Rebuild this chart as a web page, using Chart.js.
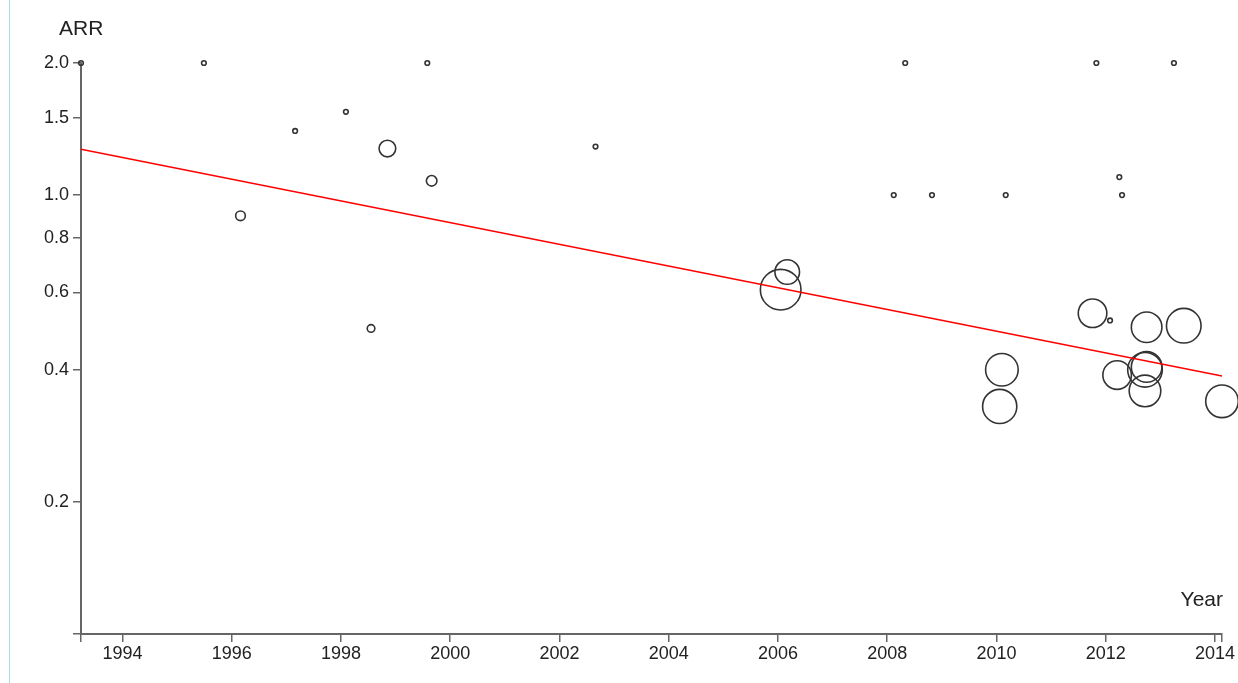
<!DOCTYPE html>
<html>
<head>
<meta charset="utf-8">
<script src="https://cdn.jsdelivr.net/npm/chart.js@4.4.1/dist/chart.umd.min.js"></script>
<style>
  html, body { margin: 0; padding: 0; background: #fff; }
  #wrap { position: relative; width: 1238px; height: 683px; }
  #edge { position: absolute; left: 9px; top: 0; width: 1px; height: 683px; background: #a9dcdc; }
  canvas { position: absolute; left: 0; top: 0; }
</style>
</head>
<body>
<div id="wrap">
  <div id="edge"></div>
  <canvas id="chart" width="1238" height="683"></canvas>
</div>
<script>
// each study: publication year, annualised relapse rate, relative weight
const years = [1993.24, 1995.49, 1996.16, 1997.16, 1998.09, 1998.55, 1998.85, 1999.58,
  1999.66, 2002.66, 2006.05, 2006.17, 2008.12, 2008.33, 2008.82, 2010.06,
  2010.10, 2010.17, 2011.76, 2011.83, 2012.08, 2012.21, 2012.25, 2012.30,
  2012.72, 2012.75, 2012.72, 2012.75, 2013.25, 2013.43, 2014.13];
const arr = [2.0, 2.0, 0.897, 1.40, 1.548, 0.497, 1.277, 2.0,
  1.078, 1.29, 0.609, 0.668, 1.0, 2.0, 1.0, 0.330,
  0.400, 1.0, 0.538, 2.0, 0.518, 0.389, 1.099, 1.0,
  0.400, 0.406, 0.358, 0.500, 2.0, 0.504, 0.339];
const weights = [0.6, 0.6, 2.6, 0.6, 0.6, 1.6, 7.7, 0.6,
  3.1, 0.6, 45.8, 16.8, 0.6, 0.6, 0.6, 32.5,
  29.5, 0.6, 22.7, 0.6, 0.6, 22.7, 0.6, 0.6,
  33.3, 26.0, 27.7, 26.0, 0.6, 33.3, 29.5];

// regression line end points
const fitYears = [1993.24, 2014.13];
const fitArr = [1.272, 0.387];

const xTickYears = [1994, 1996, 1998, 2000, 2002, 2004, 2006, 2008, 2010, 2012, 2014];
const yTickValues = [0.2, 0.4, 0.6, 0.8, 1.0, 1.5, 2.0];
const xMin = 1993.24, xMax = 2014.13;
const yMin = 0.1, yMax = 2.0;

const FONT = '"Liberation Sans", Arial, sans-serif';

const bubbles = years.map((yr, i) => ({ x: yr, y: arr[i], r: 3 * Math.sqrt(weights[i]) }));
const fitLine = fitYears.map((yr, i) => ({ x: yr, y: fitArr[i] }));

const axisTitles = {
  id: "axisTitles",
  afterDraw(chart) {
    const { ctx, chartArea } = chart;
    ctx.save();
    ctx.fillStyle = "#222";
    ctx.font = "21px " + FONT;
    ctx.textBaseline = "alphabetic";
    ctx.textAlign = "left";
    ctx.fillText("ARR", 59, 35);
    ctx.textAlign = "right";
    ctx.fillText("Year", chartArea.right + 1, 606);
    ctx.restore();
  },
};

const axisStyle = {
  border: { display: true, color: "#666", width: 2 },
  grid: { drawOnChartArea: false, drawTicks: true, tickLength: 8, color: "#666", lineWidth: 1.5 },
};

new Chart(document.getElementById("chart"), {
  type: "bubble",
  data: {
    datasets: [
      {
        type: "line",
        data: fitLine,
        borderColor: "#ff0000",
        borderWidth: 1.5,
        pointRadius: 0,
        fill: false,
        order: 0,
        clip: false,
      },
      {
        data: bubbles,
        borderColor: "#333",
        borderWidth: 1.6,
        backgroundColor: "rgba(0,0,0,0)",
        order: 1,
        clip: false,
      },
    ],
  },
  options: {
    responsive: false,
    animation: false,
    devicePixelRatio: 1,
    layout: { autoPadding: false, padding: { top: 63, right: 16, left: 0, bottom: 0 } },
    plugins: { legend: { display: false }, tooltip: { enabled: false } },
    scales: {
      x: {
        type: "linear",
        min: xMin,
        max: xMax,
        ...axisStyle,
        afterBuildTicks: (scale) => {
          scale.ticks = [xMin, ...xTickYears, xMax].map((v) => ({ value: v }));
        },
        afterFit: (scale) => {
          scale.height = 49;
          scale.paddingLeft = 0;
          scale.paddingRight = 0;
        },
        ticks: {
          autoSkip: false,
          maxRotation: 0,
          padding: 1,
          color: "#222",
          font: { family: FONT, size: 18 },
          callback: (v) => (xTickYears.includes(v) ? String(v) : ""),
        },
      },
      y: {
        type: "logarithmic",
        min: yMin,
        max: yMax,
        ...axisStyle,
        afterBuildTicks: (scale) => {
          scale.ticks = [yMin, ...yTickValues].map((v) => ({ value: v }));
        },
        afterFit: (scale) => {
          scale.width = 81;
          scale.paddingTop = 0;
          scale.paddingBottom = 0;
        },
        ticks: {
          autoSkip: false,
          padding: 4,
          color: "#222",
          font: { family: FONT, size: 18 },
          callback: (v) => (yTickValues.includes(v) ? v.toFixed(1) : ""),
        },
      },
    },
  },
  plugins: [axisTitles],
});
</script>
</body>
</html>
